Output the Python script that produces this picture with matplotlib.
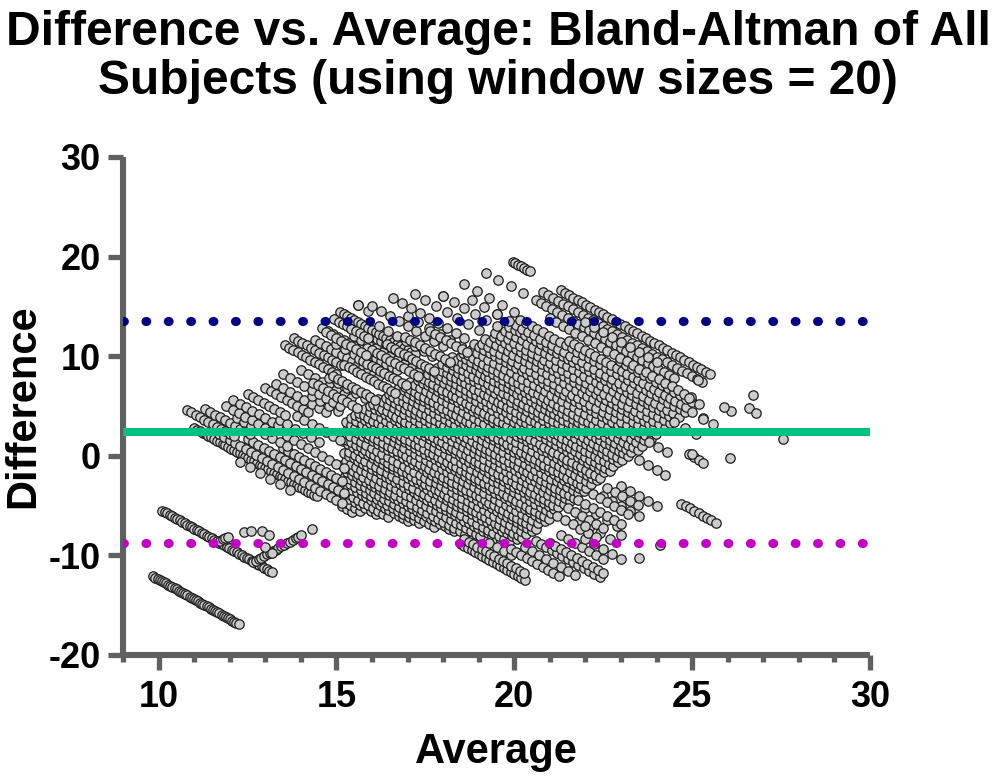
import numpy as np
import matplotlib
matplotlib.use("Agg")
import matplotlib.pyplot as plt
from matplotlib.ticker import MultipleLocator

plt.rcParams['font.family'] = ['Liberation Sans', 'DejaVu Sans']
plt.rcParams['font.weight'] = 'bold'
plt.rcParams['axes.unicode_minus'] = False

# Bland-Altman lines
bias = 2.4
upper_loa = 13.53
lower_loa = -8.72

# falling streaks: one method held constant (level = avg + diff/2),
# each given by the average where it starts and ends and the sample step.
# dense middle of the cloud
core_level = [12.65, 12.9, 13.2, 13.4, 13.75, 13.95, 14.2, 14.5, 14.7, 15.0, 15.35,
              15.55, 15.9, 16.1, 16.4, 16.75, 16.95, 17.3, 17.6, 17.8, 18.15, 18.45,
              18.65, 19.0, 19.3, 19.55, 19.9, 20.2, 20.4, 20.75, 21.1, 21.3, 21.7,
              21.95, 22.25, 22.6, 22.85, 23.2, 23.5, 23.75, 24.1, 24.45, 24.7, 25.05,
              25.4, 25.65, 26.0, 26.35, 26.6, 27.0, 27.3, 27.7]
core_from = [15.17, 15.26, 15.21, 15.33, 15.19, 15.38, 15.23, 15.31, 15.16, 15.27, 15.22,
             15.36, 15.18, 15.29, 15.24, 15.32, 15.27, 15.41, 15.53, 15.64, 15.79, 15.94,
             16.03, 16.16, 16.38, 16.47, 16.69, 16.77, 16.94, 17.06, 17.29, 17.33, 17.58,
             17.66, 17.84, 17.97, 18.14, 18.26, 18.49, 18.57, 18.79, 18.86, 19.08, 19.17,
             19.44, 19.47, 19.73, 19.86, 20.04, 20.17, 21.53, 22.96]
core_to = [15.5, 15.7, 16.2, 16.5, 17.1, 17.4, 17.85, 18.3, 18.65, 19.15, 19.7,
           20.0, 20.15, 20.25, 20.4, 20.5, 20.6, 20.75, 20.9, 21.0, 21.1, 21.25,
           21.35, 21.5, 21.6, 21.7, 21.9, 22.0, 22.1, 22.25, 22.4, 22.5, 22.65,
           22.75, 22.9, 23.0, 23.15, 23.3, 23.4, 23.5, 23.7, 23.8, 23.9, 24.1,
           24.2, 24.3, 24.5, 24.6, 24.7, 24.9, 24.9, 25.0]
core_step = [0.14, 0.13, 0.15, 0.14, 0.13, 0.15, 0.14, 0.13, 0.15, 0.14,
             0.13, 0.15, 0.14, 0.13, 0.15, 0.14, 0.13, 0.15, 0.14, 0.13,
             0.15, 0.14, 0.13, 0.15, 0.14, 0.13, 0.15, 0.14, 0.13, 0.15,
             0.14, 0.13, 0.15, 0.14, 0.13, 0.15, 0.14, 0.13, 0.15, 0.14,
             0.16, 0.15, 0.17, 0.16, 0.15, 0.17, 0.16, 0.15, 0.17, 0.16, 0.15, 0.17]

# thinner streaks round the edge of the cloud
edge_level = [3.8, 7.35, 12.4, 12.0, 12.8, 13.1, 13.35, 13.65, 13.9, 14.1, 14.4,
              14.6, 14.9, 15.2, 15.6, 15.9, 16.4, 16.9, 17.3, 17.6, 18.3, 18.7,
              19.1, 19.7, 20.2, 20.6, 21.0, 21.5, 22.0, 22.3, 22.7, 23.15, 23.5,
              24.0, 24.5, 25.3, 26.0, 26.6, 27.2, 28.4, 29.7,
              29.6, 29.0, 28.4, 27.9, 28.7,
              14.05, 14.4, 14.9, 15.2, 15.7, 16.3, 16.6, 17.3, 17.8, 18.5, 19.4,
              20.5, 21.5, 22.3, 23.3, 24.5, 25.0, 26.2, 27.2,
              18.0, 18.9, 19.8, 20.5, 21.3, 22.0, 22.9, 23.9, 21.8, 20.9,
              18.2, 18.9, 19.6, 20.3, 21.0]
edge_from = [9.85, 10.1, 11.0, 12.3, 11.7, 10.8, 12.5, 11.3, 13.5, 12.2, 11.9,
             13.6, 12.1, 13.4, 12.5, 13.9, 13.0, 13.3, 14.3, 13.5, 14.0, 14.8,
             13.55, 13.8, 14.4, 15.0, 14.6, 15.5, 15.3, 15.1, 16.2, 15.6, 16.0,
             17.0, 16.6, 17.2, 18.0, 18.8, 18.6, 19.2, 19.95,
             21.3, 20.8, 20.6, 21.0, 22.0,
             18.5, 18.6, 19.3, 19.9, 20.3, 20.6, 21.0, 21.3, 22.0, 21.8, 22.0,
             22.5, 23.0, 24.7, 23.5, 23.8, 24.9, 24.5, 25.0,
             14.33, 14.91, 15.22, 15.63, 15.87, 16.41, 16.93, 17.62, 14.94, 14.71,
             21.2, 21.5, 21.8, 22.2, 22.6]
edge_to = [12.3, 13.2, 14.45, 13.9, 15.2, 12.2, 15.2, 12.6, 15.2, 13.6, 13.2,
           15.2, 13.4, 14.6, 13.6, 15.1, 14.2, 14.7, 15.2, 15.1, 15.5, 15.8,
           15.0, 15.2, 16.2, 16.5, 16.8, 17.3, 17.0, 17.2, 17.8, 16.0, 18.0,
           18.6, 18.8, 19.2, 19.6, 19.9, 20.1, 20.3, 20.5,
           25.6, 25.4, 24.5, 25.1, 24.0,
           20.3, 20.3, 20.0, 21.3, 21.8, 22.5, 22.5, 22.6, 23.0, 22.8, 23.0,
           23.5, 24.0, 25.7, 24.3, 24.5, 25.3, 25.2, 25.6,
           15.6, 16.1, 16.7, 17.0, 17.4, 17.8, 18.2, 18.7, 16.0, 15.9,
           22.3, 22.6, 23.0, 23.3, 23.6]
edge_step = [0.06, 0.07, 0.08, 0.28, 0.15, 0.12, 0.15, 0.14, 0.15, 0.2, 0.18,
             0.2, 0.18, 0.22, 0.15, 0.2, 0.15, 0.2, 0.25, 0.2, 0.2, 0.25,
             0.12, 0.12, 0.15, 0.25, 0.15, 0.2, 0.12, 0.1, 0.25, 0.3, 0.25,
             0.3, 0.25, 0.3, 0.3, 0.35, 0.35, 0.35, 0.08,
             0.12, 0.14, 0.15, 0.18, 0.25,
             0.1, 0.12, 0.2, 0.15, 0.2, 0.15, 0.15, 0.2, 0.25, 0.3, 0.3,
             0.25, 0.25, 0.12, 0.25, 0.25, 0.15, 0.3, 0.3,
             0.14, 0.13, 0.12, 0.12, 0.13, 0.12, 0.14, 0.15, 0.12, 0.14,
             0.22, 0.2, 0.2, 0.2, 0.22]

# rising streaks: the other method held constant (level = avg - diff/2)
rise_level = [18.0, 16.0]
rise_from = [12.65, 11.73]
rise_to = [14.06, 12.0]
rise_step = [0.08, 0.07]

# loose single points
single_avg = [12.4, 12.6, 12.9, 13.1, 13.0, 13.2, 14.3, 15.6, 18.0, 19.5, 26.06,
              27.55, 26.7, 26.1, 25.9, 25.3, 25.2, 24.9, 25.17, 26.6, 26.8, 25.0,
              25.3, 22.0, 23.0, 23.5, 24.1]
single_diff = [-7.7, -7.6, -7.5, -8.0, -9.2, -9.8, -7.3, 15.1, 16.0, 14.2, -0.2,
               1.7, 6.1, 4.5, 4.9, 3.7, 5.2, 5.8, 7.6, 4.8, 4.3, 0.2,
               -0.7, -7.0, -8.0, -10.3, -9.0]

avg_pts = []
diff_pts = []
for lev, a0, a1, st in zip(core_level + edge_level, core_from + edge_from,
                           core_to + edge_to, core_step + edge_step):
    xs = np.arange(a0, a1 + 1e-9, st)
    avg_pts.extend(xs)
    diff_pts.extend(2 * (lev - xs))
for lev, a0, a1, st in zip(rise_level, rise_from, rise_to, rise_step):
    xs = np.arange(a0, a1 + 1e-9, st)
    avg_pts.extend(xs)
    diff_pts.extend(2 * (xs - lev))
avg_pts.extend(single_avg)
diff_pts.extend(single_diff)

fig = plt.figure(figsize=(9.96, 7.81), dpi=100)
ax = fig.add_axes([123 / 996, 1 - 655 / 781, 747 / 996, 498 / 781])

ax.scatter(avg_pts, diff_pts, s=46, facecolor='#cccccc', edgecolor='#1c1c1c',
           linewidth=0.9, zorder=2, clip_on=False)

ax.plot([9, 30], [bias, bias], color='#00c07f', lw=5.8, solid_capstyle='butt', zorder=3)
for yv, col in [(upper_loa, '#000080'), (lower_loa, '#c000c0')]:
    ax.plot([9, 30], [yv, yv], color=col, lw=6.5, linestyle=(0, (0.1, 2.38)),
            dash_capstyle='round', zorder=3)

ax.set_xlim(9, 30)
ax.set_ylim(-20, 30)
ax.set_xticks([10, 15, 20, 25, 30])
ax.xaxis.set_minor_locator(MultipleLocator(1))
ax.set_yticks([-20, -10, 0, 10, 20, 30])

for side in ['top', 'right']:
    ax.spines[side].set_visible(False)
for side in ['left', 'bottom']:
    ax.spines[side].set_linewidth(4.4)
    ax.spines[side].set_color('#606060')
    ax.spines[side].set_capstyle('butt')

ax.tick_params(which='major', length=11, width=3.8, color='#606060',
               labelsize=26, pad=5)
ax.tick_params(axis='x', which='major', pad=7)
ax.tick_params(which='minor', length=5, width=3.8, color='#606060')
for lab in ax.get_xticklabels() + ax.get_yticklabels():
    lab.set_fontweight('bold')

fig.text(0.5, 0.987, 'Difference vs. Average: Bland-Altman of All\nSubjects (using window sizes = 20)',
         ha='center', va='top', fontsize=34.5, fontweight='bold', linespacing=1.1)
ax.set_xlabel('Average', fontsize=30, fontweight='bold', labelpad=12)
ax.set_ylabel('Difference', fontsize=30, fontweight='bold', labelpad=4)

fig.savefig('out.png', dpi=100)
